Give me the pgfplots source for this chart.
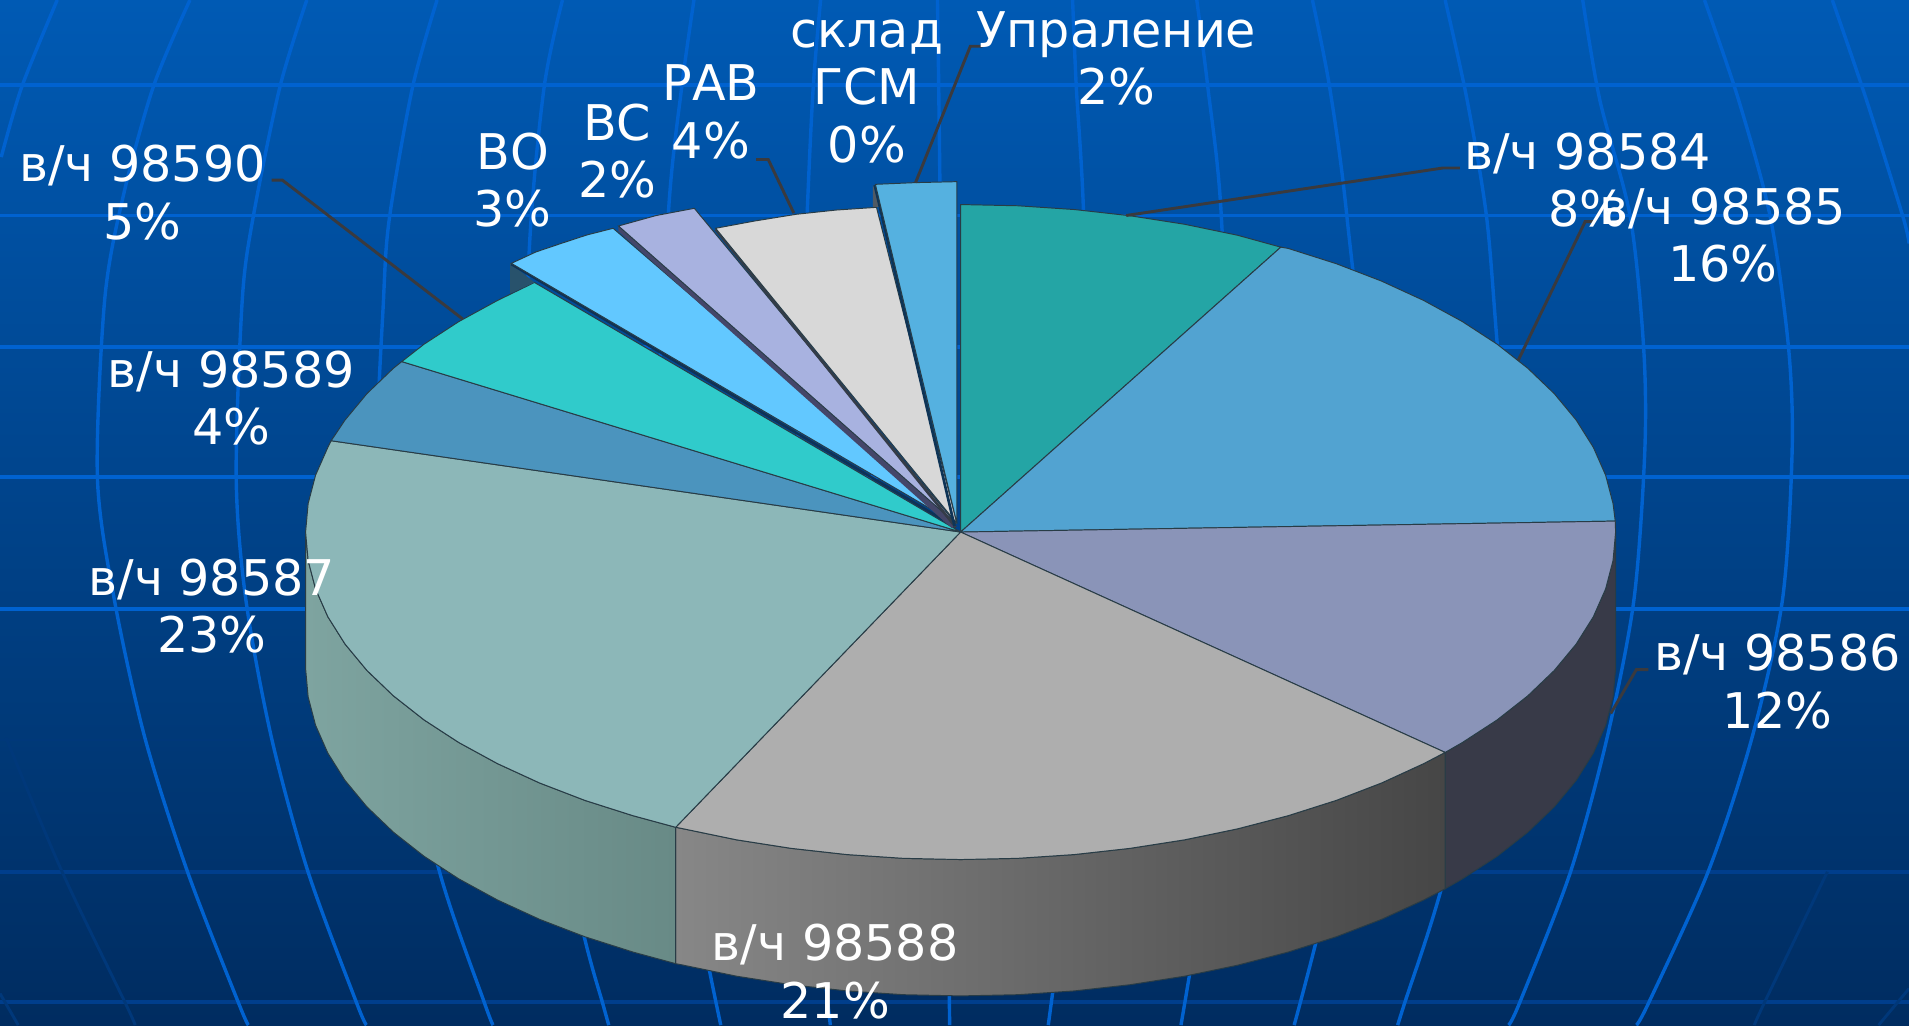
\documentclass[border=0pt]{standalone}
\usepackage{fontspec}
\setmainfont{DejaVu Sans}
\usepackage{pgfplots}
\pgfplotsset{compat=1.18}
\definecolor{cA}{RGB}{36,165,165}
\definecolor{cB}{RGB}{82,163,209}
\definecolor{cC}{RGB}{138,148,184}
\definecolor{cD}{RGB}{174,174,174}
\definecolor{cE}{RGB}{140,183,184}
\definecolor{cF}{RGB}{75,148,190}
\definecolor{cG}{RGB}{48,203,203}
\definecolor{cH}{RGB}{98,200,255}
\definecolor{cI}{RGB}{168,178,224}
\definecolor{cJ}{RGB}{216,216,216}
\definecolor{cK}{RGB}{85,177,224}
\definecolor{sC}{RGB}{56,58,72}
\definecolor{bgT}{RGB}{0,90,180}
\definecolor{bgB}{RGB}{0,44,96}
\definecolor{gridB}{RGB}{0,98,208}
\definecolor{gridD}{RGB}{0,62,140}
\definecolor{gridF}{RGB}{0,56,122}
\definecolor{lead}{RGB}{58,58,62}
\definecolor{edge}{RGB}{40,60,70}
\tikzset{
  wedge/.style={draw=edge, line width=0.4pt},
  hl/.style={gridB, line width=1.6pt},
  hd/.style={gridD, line width=1.5pt},
  mer/.style={gridB, line width=1.4pt, smooth},
  merd/.style={gridF, line width=1.2pt, smooth},
  lab/.style={align=center, text=white, font=\fontsize{20.2}{23.6}\selectfont},
  leader/.style={lead, line width=1.2pt},
}
\begin{document}
\begin{tikzpicture}
\useasboundingbox (0,0) rectangle (784pt,421pt);
\begin{axis}[
  at={(0,0)}, anchor=south west,
  scale only axis, width=784pt, height=421pt,
  xmin=0, xmax=1568, ymin=0, ymax=842, y dir=reverse,
  hide axis, no markers,
]
% background
\addplot[top color=bgT, bottom color=bgB, draw=none] coordinates {(0,0)(1568,0)(1568,842)(0,842)(0,0)};
% horizontal grid
\addplot[hl] coordinates {(0,70)(1568,70)};
\addplot[hl] coordinates {(0,177)(1568,177)};
\addplot[hl] coordinates {(0,285)(1568,285)};
\addplot[hl] coordinates {(0,392)(1568,392)};
\addplot[hl] coordinates {(0,500)(1568,500)};
\addplot[gridF, line width=0.8pt] coordinates {(0,608)(1568,608)};
\addplot[hd] coordinates {(0,716)(1568,716)};
\addplot[hd] coordinates {(0,823)(1568,823)};
% meridians
\addplot[mer] coordinates {(47,0)(18,71)(1,129)};
\addplot[merd] coordinates {(5,606)(51,716)(103,824)(111,842)};
\addplot[merd] coordinates {(0,816)(15,842)};
\addplot[mer] coordinates {(156,0)(126,71)(101,162)(86,246)(80,392)(94,493)(119,606)(154,716)(196,824)(204,842)};
\addplot[mer] coordinates {(252,0)(230,71)(208,178)(199,246)(194,392)(202,493)(223,606)(253,716)(293,824)(301,842)};
\addplot[mer] coordinates {(359,0)(339,71)(320,178)(315,246)(310,392)(325,560)(361,716)(398,824)(405,842)};
\addplot[mer] coordinates {(462,0)(447,71)(435,200)(430,392)(445,620)(480,770)(495,824)(500,842)};
\addplot[mer] coordinates {(570,0)(560,71)(549,175)(540,392)(555,640)(592,842)};
\addplot[mer] coordinates {(674,0)(668,71)(663,175)(655,392)(662,640)(682,842)};
\addplot[mer] coordinates {(770,0)(772,150)(780,842)};
\addplot[mer] coordinates {(881,0)(884,71)(890,175)(895,392)(885,640)(861,842)};
\addplot[mer] coordinates {(983,0)(992,71)(1003,175)(1010,392)(1000,640)(970,842)};
\addplot[mer] coordinates {(1078,0)(1092,71)(1106,175)(1125,392)(1110,640)(1063,842)};
\addplot[mer] coordinates {(1187,0)(1205,82)(1221,178)(1230,285)(1240,392)(1228,560)(1183,733)(1154,823)(1148,842)};
\addplot[mer] coordinates {(1300,0)(1314,82)(1339,178)(1350,285)(1351,370)(1342,493)(1320,606)(1290,716)(1248,824)(1239,842)};
\addplot[mer] coordinates {(1400,0)(1428,82)(1454,178)(1469,285)(1472,370)(1464,493)(1439,606)(1403,716)(1354,824)(1344,842)};
\addplot[mer] coordinates {(1505,0)(1533,82)(1563,178)(1568,200)};
\addplot[merd] coordinates {(1501,716)(1449,824)(1441,842)};
\addplot[merd] coordinates {(1568,812)(1543,842)};
% side walls
\addplot[wedge, fill=sC] coordinates {(1327,437)(1324.9,460.4)(1318.8,483.7)(1308.7,506.6)(1294.6,529)(1276.6,550.7)(1254.9,571.5)(1229.7,591.3)(1201.1,609.9)(1187,618)
 (1187,730)(1201.1,721.9)(1229.7,703.3)(1254.9,683.5)(1276.6,662.7)(1294.6,641)(1308.7,618.6)(1318.8,595.7)(1324.9,572.4)(1327,549)(1327,437)};
\addplot[draw=edge, line width=0.4pt, left color={rgb,255:red,135;green,135;blue,135}, middle color={rgb,255:red,82;green,82;blue,82}, right color={rgb,255:red,70;green,70;blue,70}] coordinates {(1187,618)(1169.4,627.2)(1134.8,643.1)(1097.6,657.4)(1058,670)(1016.4,680.8)(973,689.8)(928.2,696.8)(882.4,701.9)(835.9,705)(789,706)(742.1,705)(695.6,701.9)(649.8,696.8)(605,689.8)(561.6,680.8)(555,679.5)
 (555,791.5)(561.6,792.8)(605,801.8)(649.8,808.8)(695.6,813.9)(742.1,817)(789,818)(835.9,817)(882.4,813.9)(928.2,808.8)(973,801.8)(1016.4,792.8)(1058,782)(1097.6,769.4)(1134.8,755.1)(1169.4,739.2)(1187,730)(1187,618)};
\addplot[draw=edge, line width=0.4pt, left color={rgb,255:red,126;green,164;blue,160}, right color={rgb,255:red,104;green,138;blue,134}] coordinates {(555,679.5)(520,670)(480.4,657.4)(443.2,643.1)(408.6,627.2)(376.9,609.9)(348.3,591.3)(323.1,571.5)(301.4,550.7)(283.4,529)(269.3,506.6)(259.2,483.7)(253.1,460.4)(251,437)
 (251,549)(253.1,572.4)(259.2,595.7)(269.3,618.6)(283.4,641)(301.4,662.7)(323.1,683.5)(348.3,703.3)(376.9,721.9)(408.6,739.2)(443.2,755.1)(480.4,769.4)(520,782)(555,791.5)(555,679.5)};
% main top faces
\addplot[wedge, fill=cA] coordinates {(789,437)(789,168)(835.9,169)(882.4,172.1)(928.2,177.2)(973,184.2)(1016.4,193.2)(1052,203)(789,437)};
\addplot[wedge, fill=cB] coordinates {(789,437)(1052,203)(1058,204)(1097.6,216.6)(1134.8,230.9)(1169.4,246.8)(1201.1,264.1)(1229.7,282.7)(1254.9,302.5)(1276.6,323.3)(1294.6,345)(1308.7,367.4)(1318.8,390.3)(1324.9,413.6)(1326.7,428)(789,437)};
\addplot[wedge, fill=cC] coordinates {(789,437)(1326.7,428)(1327,437)(1324.9,460.4)(1318.8,483.7)(1308.7,506.6)(1294.6,529)(1276.6,550.7)(1254.9,571.5)(1229.7,591.3)(1201.1,609.9)(1187,618)(789,437)};
\addplot[wedge, fill=cD] coordinates {(789,437)(1187,618)(1169.4,627.2)(1134.8,643.1)(1097.6,657.4)(1058,670)(1016.4,680.8)(973,689.8)(928.2,696.8)(882.4,701.9)(835.9,705)(789,706)(742.1,705)(695.6,701.9)(649.8,696.8)(605,689.8)(561.6,680.8)(555,679.5)(789,437)};
\addplot[wedge, fill=cE] coordinates {(789,437)(555,679.5)(520,670)(480.4,657.4)(443.2,643.1)(408.6,627.2)(376.9,609.9)(348.3,591.3)(323.1,571.5)(301.4,550.7)(283.4,529)(269.3,506.6)(259.2,483.7)(253.1,460.4)(251,437)(253.1,413.6)(259.2,390.3)(269.3,367.4)(272,362)(789,437)};
\addplot[wedge, fill=cF] coordinates {(789,437)(272,362)(283.4,345)(301.4,323.3)(323.1,302.5)(330,297)(789,437)};
\addplot[wedge, fill=cG] coordinates {(789,437)(330,297)(348.3,282.7)(376.9,264.1)(408.6,246.8)(439,232)(789,437)};
% exploded slices
\addplot[draw=none, fill={rgb,255:red,40;green,82;blue,108}] coordinates {(419,216)(419,241)(439,232)(419,216)};
\addplot[line width=1pt, color={rgb,255:red,15;green,50;blue,85}] coordinates {(420,217)(785,433)};
\addplot[wedge, fill=cH] coordinates {(785,430)(420,216.3)(440,207)(461,199.9)(482,193)(503.6,187.5)(785,430)};
\addplot[draw=none, fill={rgb,255:red,68;green,70;blue,105}] coordinates {(508,185.6)(785,430)(782,434)(508,190)(508,185.6)};
\addplot[wedge, fill=cI] coordinates {(785,430)(508,185.6)(539,177)(570.3,171.1)(785,430)};
\addplot[line width=1.1pt, color={rgb,255:red,52;green,60;blue,72}] coordinates {(587.8,188.5)(785,433)};
\addplot[wedge, fill=cJ] coordinates {(786,430)(587.8,187.5)(620,181.5)(654,176)(687,172.5)(719.9,170.3)(786,430)};
\addplot[draw=none, fill={rgb,255:red,80;green,90;blue,100}] coordinates {(717,152)(717,170)(724,170)(717,152)};
\addplot[line width=1.1pt, color={rgb,255:red,14;green,52;blue,86}] coordinates {(718.5,152)(784,432)};
\addplot[wedge, fill=cK] coordinates {(786,430)(719,151.4)(751.6,150)(786,149.2)(786,430)};
% leader lines
\addplot[leader] coordinates {(925,177)(1185,138)(1199,138)};
\addplot[leader] coordinates {(1247,296)(1302,182)(1309,182)};
\addplot[leader] coordinates {(1323,586)(1344,550)(1354,550)};
\addplot[leader] coordinates {(380,262)(232,148)(223,148)};
\addplot[leader] coordinates {(652,175)(631,131)(621,131)};
\addplot[leader] coordinates {(752,150)(797,38)(807,38)};
% labels
\node[lab] at (axis cs:917,48) {Упраление\\2\%};
\node[lab] at (axis cs:712,75) {склад\\ГСМ\\0\%};
\node[lab] at (axis cs:584,92) {РАВ\\4\%};
\node[lab] at (axis cs:507,124) {ВС\\2\%};
\node[lab] at (axis cs:421,148) {ВО\\3\%};
\node[lab] at (axis cs:117,158) {в/ч 98590\\5\%};
\node[lab] at (axis cs:190,327) {в/ч 98589\\4\%};
\node[lab] at (axis cs:174,498) {в/ч 98587\\23\%};
\node[lab] at (axis cs:686,798) {в/ч 98588\\21\%};
\node[lab] at (axis cs:1460,560) {в/ч 98586\\12\%};
\node[lab] at (axis cs:1304,148) {в/ч 98584\\8\%};
\node[lab] at (axis cs:1415,193) {в/ч 98585\\16\%};
\end{axis}
\end{tikzpicture}
\end{document}
